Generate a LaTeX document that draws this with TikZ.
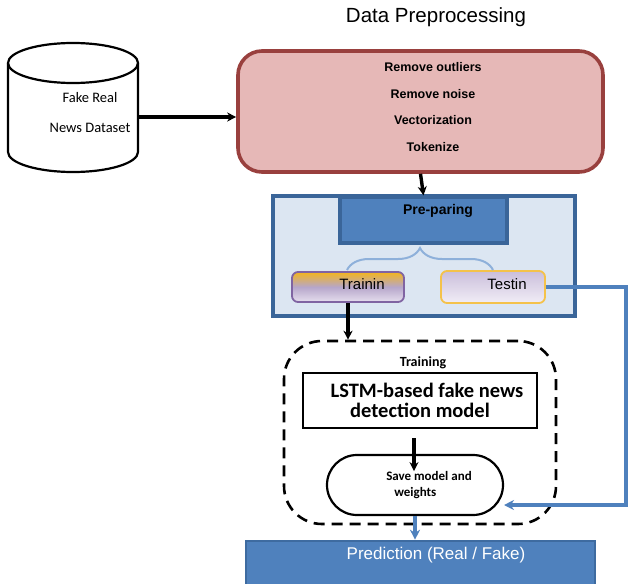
\documentclass[tikz,border=0pt]{standalone}
\usepackage{fontspec}
\setmainfont{Liberation Sans}
\newfontfamily\calfont{Carlito}
\usetikzlibrary{arrows.meta,decorations.pathreplacing}
\definecolor{pinkFill}{HTML}{E6B8B7}
\definecolor{pinkLine}{HTML}{99403E}
\definecolor{paleBlue}{HTML}{DCE6F2}
\definecolor{midBlue}{HTML}{4F81BD}
\definecolor{darkBlue}{HTML}{3A6599}
\definecolor{braceBlue}{HTML}{8EB0DA}
\definecolor{trainTop}{HTML}{F3B51C}
\definecolor{trainMid}{HTML}{B6A6CA}
\definecolor{trainBot}{HTML}{E6DEEE}
\definecolor{trainLine}{HTML}{8064A2}
\definecolor{testTop}{HTML}{CABEDB}
\definecolor{testBot}{HTML}{F1EDF6}
\definecolor{testLine}{HTML}{F4C24A}

\begin{document}
\begin{tikzpicture}[x=1pt, y=-1pt,
    box/.style={rectangle, draw, inner sep=0pt},
    txt/.style={inner sep=0pt, align=center},
    arrow/.style={-{Stealth[length=9pt, width=9pt]}, line width=3.4pt},
    bluearrow/.style={-{Stealth[length=10pt, width=10pt]}, draw=midBlue, line width=3.6pt}
]
\clip (0,0) rectangle (644,583);

\node[txt, font=\fontsize{20.5}{22}\selectfont] (title) at (436,17) {Data Preprocessing};

% dataset cylinder
\draw[line width=2.2pt, fill=white] (8,63) -- (8,152) arc[start angle=180, end angle=0, x radius=65, y radius=20] -- (138,63);
\draw[line width=2.2pt] (73,63) ellipse[x radius=65, y radius=20];
\node[txt, font=\calfont\fontsize{14.5}{30}\selectfont] (data) at (90,113) {Fake Real\\News Dataset};
\coordinate (dataR) at (138,117);

\node[box, rounded corners=24, fill=pinkFill, draw=pinkLine, line width=3.6pt,
      minimum width=365, minimum height=121] (clean) at (420.5,111.5) {};
\node[txt, font=\bfseries\fontsize{12.5}{26.7}\selectfont] (steps) at (433,107)
    {Remove outliers\\Remove noise\\Vectorization\\Tokenize};

% splitting
\node[box, fill=paleBlue, draw=darkBlue, line width=3.2pt,
      minimum width=302, minimum height=120] (split) at (424,256) {};
\node[box, fill=midBlue, draw=darkBlue, line width=3.2pt,
      minimum width=167, minimum height=46] (prep) at (423.5,220) {};
\node[txt, font=\bfseries\fontsize{14}{16}\selectfont] (prepTxt) at (438,211) {Pre-paring};

\node[box, rounded corners=6, top color=trainTop, bottom color=trainBot, middle color=trainMid,
      draw=trainLine, line width=1.8pt,
      minimum width=112, minimum height=30] (train) at (348,287) {};
\node[txt, font=\fontsize{15}{16}\selectfont] (trainTxt) at (362,284) {Trainin};
\node[box, rounded corners=6, top color=testTop, bottom color=testBot,
      draw=testLine, line width=1.8pt,
      minimum width=104, minimum height=32] (test) at (493,287) {};
\node[txt, font=\fontsize{15}{16}\selectfont] (testTxt) at (507,284) {Testin};
\draw[braceBlue, line width=2pt, decorate, decoration={brace, amplitude=22pt}]
    (347,270) -- (493,270);

% training block
\node[box, dashed, dash pattern=on 11pt off 7pt, line width=2.6pt, rounded corners=38,
      minimum width=272, minimum height=183] (trainBlock) at (420,432.5) {};
\node[txt, font=\calfont\bfseries\fontsize{14}{16}\selectfont] (trainHead) at (423,363) {Training};
\node[box, line width=2.2pt, minimum width=234, minimum height=55,
      font=\calfont\bfseries\fontsize{20.5}{20}\selectfont, align=center] (lstm) at (420,400.5)
    {\hspace*{14pt}LSTM-based fake news\\detection model};
\node[box, line width=2.2pt, rounded corners=30, minimum width=176, minimum height=60] (save) at (415,485) {};
\node[txt, align=left, font=\calfont\bfseries\fontsize{13}{16}\selectfont] (saveTxt) at (429,485)
    {Save model and\\\hspace*{8pt}weights};

\node[box, fill=midBlue, draw=darkBlue!80!midBlue, line width=2.6pt,
      minimum width=349, minimum height=60] (pred) at (420.5,571) {};
\node[txt, text=white, font=\fontsize{17}{18}\selectfont] (predTxt) at (436,555) {Prediction (Real / Fake)};

\coordinate (back) at (504,505);

\draw[arrow] (dataR) -- (clean.west |- dataR);
\draw[arrow] (clean.south) -- (prep.north);
\draw[arrow, line width=4pt] (train.south) -- (train.south |- trainBlock.north);
\draw[arrow] (lstm.south) ++(-6,9) -- ++(0,33);
\draw[bluearrow] (test.east) -| (626,505) -- (back);
\draw[bluearrow] (save.south) -- (save.south |- pred.north);
\end{tikzpicture}
\end{document}
